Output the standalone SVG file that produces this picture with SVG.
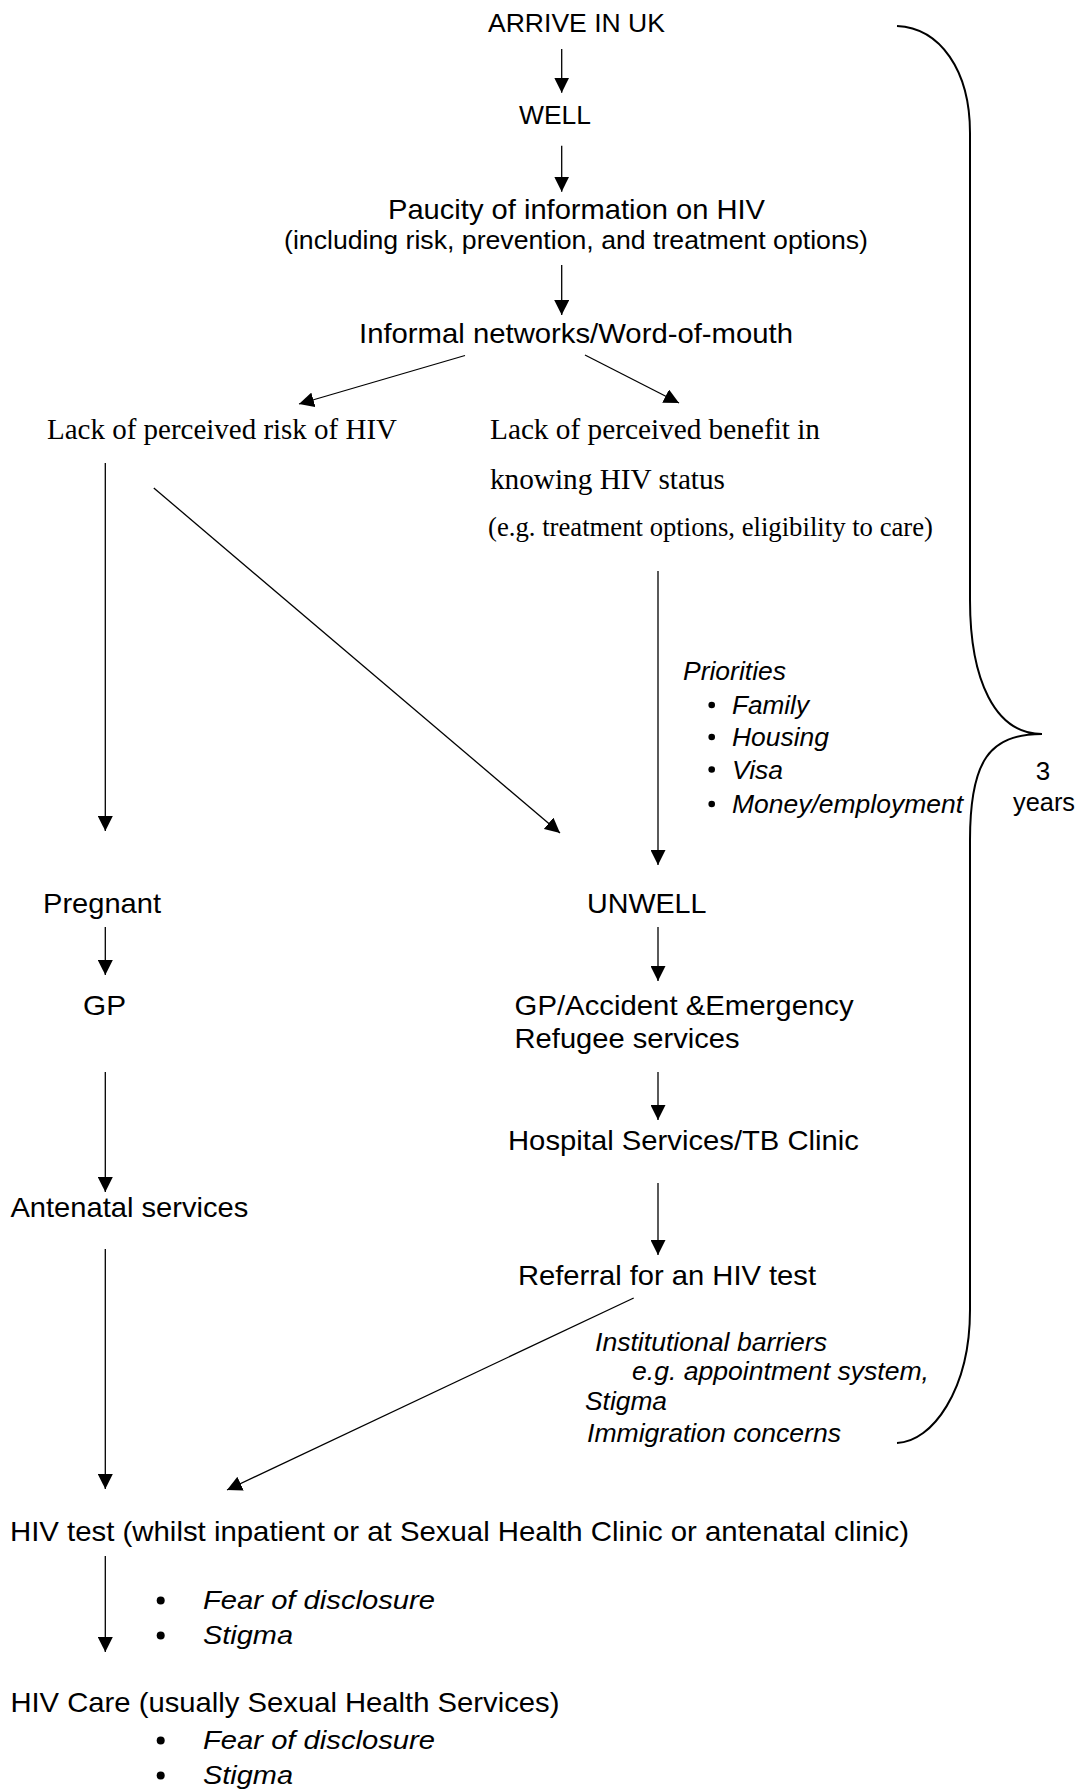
<svg xmlns="http://www.w3.org/2000/svg" width="1086" height="1789" viewBox="0 0 1086 1789">
<style>
  .s { font-family: "Liberation Sans", Arial, sans-serif; font-size: 28px; fill: #000; }
  .ss { font-family: "Liberation Sans", Arial, sans-serif; font-size: 26px; fill: #000; }
  .i { font-family: "Liberation Sans", Arial, sans-serif; font-size: 25px; font-style: italic; fill: #000; }
  .r { font-family: "Liberation Serif", "Times New Roman", serif; font-size: 28.5px; fill: #000; }
  .rs { font-family: "Liberation Serif", "Times New Roman", serif; font-size: 26.5px; fill: #000; }
  .c line { stroke: #000; stroke-width: 1.3; fill: none; marker-end: url(#ah); }
  .brace { stroke: #000; stroke-width: 2; fill: none; }
</style>
<defs>
  <marker id="ah" markerUnits="userSpaceOnUse" markerWidth="15" markerHeight="15" refX="15" refY="7.5" orient="auto">
    <path d="M0,0 L15,7.5 L0,15 z" fill="#000"/>
  </marker>
</defs>
<rect width="1086" height="1789" fill="#fff"/>

<g id="connectors" class="c">
  <line x1="561.7" y1="49" x2="561.7" y2="92.7"/>
  <line x1="561.7" y1="145.7" x2="561.7" y2="191.7"/>
  <line x1="561.7" y1="265" x2="561.7" y2="315"/>
  <line x1="465" y1="355.5" x2="299" y2="404"/>
  <line x1="585" y1="355" x2="679" y2="403"/>
  <line x1="105.3" y1="463" x2="105.3" y2="831"/>
  <line x1="153.8" y1="488" x2="560" y2="833"/>
  <line x1="658" y1="571" x2="658" y2="865"/>
  <line x1="105.3" y1="927" x2="105.3" y2="975"/>
  <line x1="658" y1="927" x2="658" y2="981"/>
  <line x1="105.3" y1="1072" x2="105.3" y2="1192"/>
  <line x1="658" y1="1072" x2="658" y2="1120"/>
  <line x1="658" y1="1183" x2="658" y2="1255"/>
  <line x1="105.3" y1="1249" x2="105.3" y2="1489"/>
  <line x1="633.7" y1="1298" x2="227" y2="1490"/>
  <line x1="105.3" y1="1556" x2="105.3" y2="1652"/>
</g>

<g id="brace">
  <path class="brace" d="M897,26 C940,28 970,70 970,133 L970,600 C970,680 995,734 1042,734 C990,734 970,760 970,840 L970,1310 C970,1390 932,1442 897,1443"/>
  <text class="ss" x="1043" y="780" text-anchor="middle">3</text>
  <text class="ss" x="1013" y="811" textLength="62" lengthAdjust="spacingAndGlyphs">years</text>
</g>

<g id="arrive"><text class="ss" x="488" y="32" textLength="177" lengthAdjust="spacingAndGlyphs">ARRIVE IN UK</text></g>
<g id="well"><text class="ss" x="519" y="124" textLength="72" lengthAdjust="spacingAndGlyphs">WELL</text></g>
<g id="paucity">
  <text class="s" x="388" y="219" textLength="377" lengthAdjust="spacingAndGlyphs">Paucity of information on HIV</text>
  <text class="ss" x="284" y="249" textLength="584" lengthAdjust="spacingAndGlyphs">(including risk, prevention, and treatment options)</text>
</g>
<g id="informal"><text class="s" x="359" y="343" textLength="434" lengthAdjust="spacingAndGlyphs">Informal networks/Word-of-mouth</text></g>
<g id="lack-risk"><text class="r" x="47" y="438.5" textLength="350" lengthAdjust="spacingAndGlyphs">Lack of perceived risk of HIV</text></g>
<g id="lack-benefit">
  <text class="r" x="490" y="438.5" textLength="330" lengthAdjust="spacingAndGlyphs">Lack of perceived benefit in</text>
  <text class="r" x="490" y="488.5" textLength="235" lengthAdjust="spacingAndGlyphs">knowing HIV status</text>
  <text class="rs" x="488" y="535.5" textLength="445" lengthAdjust="spacingAndGlyphs">(e.g. treatment options, eligibility to care)</text>
</g>
<g id="priorities">
  <text class="i" x="683" y="680" textLength="103" lengthAdjust="spacingAndGlyphs">Priorities</text>
  <circle cx="711.7" cy="705" r="3.3"/>
  <text class="i" x="732" y="714" textLength="77" lengthAdjust="spacingAndGlyphs">Family</text>
  <circle cx="711.7" cy="737" r="3.3"/>
  <text class="i" x="732" y="746" textLength="97" lengthAdjust="spacingAndGlyphs">Housing</text>
  <circle cx="711.7" cy="769.5" r="3.3"/>
  <text class="i" x="732" y="778.5" textLength="51" lengthAdjust="spacingAndGlyphs">Visa</text>
  <circle cx="711.7" cy="804" r="3.3"/>
  <text class="i" x="732" y="813" textLength="231" lengthAdjust="spacingAndGlyphs">Money/employment</text>
</g>
<g id="pregnant"><text class="s" x="43" y="913" textLength="118" lengthAdjust="spacingAndGlyphs">Pregnant</text></g>
<g id="unwell"><text class="s" x="587" y="913" textLength="119.5" lengthAdjust="spacingAndGlyphs">UNWELL</text></g>
<g id="gp"><text class="s" x="83" y="1015" textLength="43" lengthAdjust="spacingAndGlyphs">GP</text></g>
<g id="gp-ae">
  <text class="s" x="514.6" y="1015" textLength="339" lengthAdjust="spacingAndGlyphs">GP/Accident &amp;Emergency</text>
  <text class="s" x="514.6" y="1048" textLength="225" lengthAdjust="spacingAndGlyphs">Refugee services</text>
</g>
<g id="hospital"><text class="s" x="508" y="1150" textLength="351" lengthAdjust="spacingAndGlyphs">Hospital Services/TB Clinic</text></g>
<g id="antenatal"><text class="s" x="10.4" y="1217" textLength="238" lengthAdjust="spacingAndGlyphs">Antenatal services</text></g>
<g id="referral"><text class="s" x="518" y="1285" textLength="298" lengthAdjust="spacingAndGlyphs">Referral for an HIV test</text></g>
<g id="barriers">
  <text class="i" x="595" y="1351" textLength="232" lengthAdjust="spacingAndGlyphs">Institutional barriers</text>
  <text class="i" x="632" y="1380" textLength="297" lengthAdjust="spacingAndGlyphs">e.g. appointment system,</text>
  <text class="i" x="585" y="1410" textLength="82" lengthAdjust="spacingAndGlyphs">Stigma</text>
  <text class="i" x="587" y="1442" textLength="254" lengthAdjust="spacingAndGlyphs">Immigration concerns</text>
</g>
<g id="hiv-test">
  <text class="s" x="10" y="1540.5" textLength="899" lengthAdjust="spacingAndGlyphs">HIV test (whilst inpatient or at Sexual Health Clinic or antenatal clinic)</text>
</g>
<g id="test-barriers">
  <circle cx="160.7" cy="1600.5" r="4"/>
  <text class="i" x="203" y="1608.5" font-size="28" textLength="232" lengthAdjust="spacingAndGlyphs">Fear of disclosure</text>
  <circle cx="160.7" cy="1635.5" r="4"/>
  <text class="i" x="203" y="1643.5" font-size="28" textLength="90" lengthAdjust="spacingAndGlyphs">Stigma</text>
</g>
<g id="hiv-care">
  <text class="s" x="10.4" y="1712" textLength="549" lengthAdjust="spacingAndGlyphs">HIV Care (usually Sexual Health Services)</text>
  <circle cx="160.7" cy="1740.5" r="4"/>
  <text class="i" x="203" y="1748.5" font-size="28" textLength="232" lengthAdjust="spacingAndGlyphs">Fear of disclosure</text>
  <circle cx="160.7" cy="1775.5" r="4"/>
  <text class="i" x="203" y="1783.5" font-size="28" textLength="90" lengthAdjust="spacingAndGlyphs">Stigma</text>
</g>
</svg>
